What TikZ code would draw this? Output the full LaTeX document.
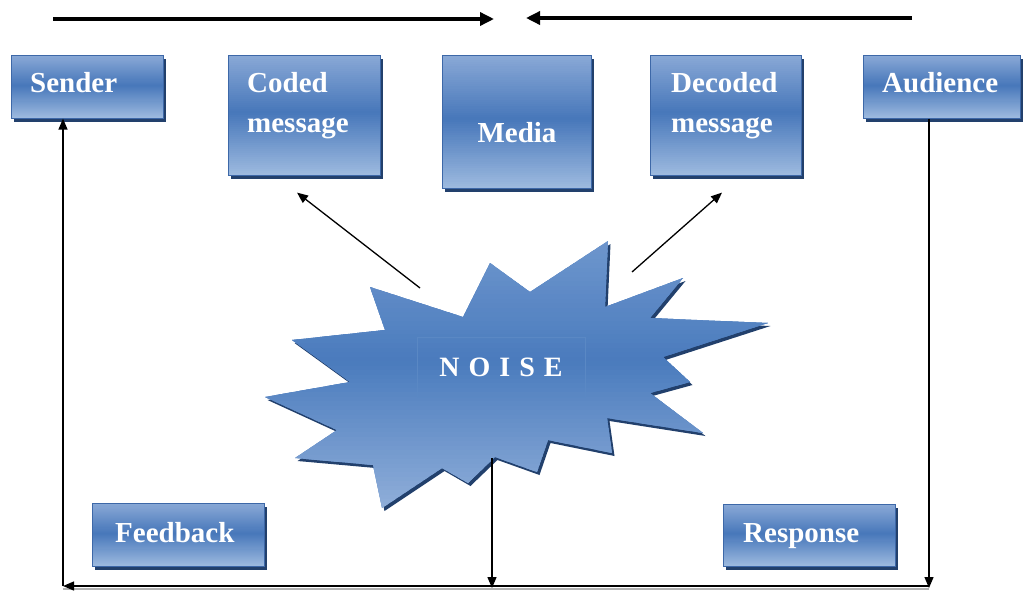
\documentclass[tikz,border=0pt]{standalone}
\usepackage{fontspec}
\setmainfont{Liberation Serif}
\usetikzlibrary{arrows.meta,shadows,calc}

\definecolor{boxtop}{HTML}{8AA9D6}
\definecolor{boxmid}{HTML}{4777BA}
\definecolor{boxbot}{HTML}{9DBADF}
\definecolor{boxline}{HTML}{3D68A8}
\definecolor{shadowc}{HTML}{22406C}
\definecolor{startop}{HTML}{6E96CD}
\definecolor{starmid}{HTML}{4A7BBD}
\definecolor{starbot}{HTML}{8FAED9}
\definecolor{framec}{HTML}{5A88C4}

% outline of the noise burst
\newcommand\noisestar{(608,241) -- (605,307) -- (683,278) -- (650,318) -- (768,323)
  -- (663,357) -- (690,382) -- (650,393) -- (703,433) -- (607,418) -- (612,453)
  -- (548,440) -- (537,472) -- (495,457) -- (468,483) -- (442,468) -- (382,508)
  -- (373,465) -- (295,458) -- (337,430) -- (265,397) -- (350,382) -- (292,340)
  -- (385,330) -- (370,287) -- (463,317) -- (490,263) -- (530,292) -- cycle}

% vertical three-stop gradient drawn as thin bands inside a path picture
% #1 top colour, #2 middle colour, #3 bottom colour, #4 position of the middle stop
\newcommand\bandfill[4]{%
  \coordinate (pa) at (path picture bounding box.north west);
  \coordinate (pb) at (path picture bounding box.south east);
  \foreach \i in {0,...,59}{%
    \pgfmathsetmacro\ta{\i/60}%
    \pgfmathsetmacro\tb{min(1,(\i+1.6)/60)}%
    \pgfmathsetmacro\tc{(\i+0.5)/60}%
    \ifdim\tc pt<#4pt
      \pgfmathsetmacro\pc{100*\tc/#4}\colorlet{bandc}{#2!\pc!#1}%
    \else
      \pgfmathsetmacro\pc{100*(\tc-#4)/(1-#4)}\colorlet{bandc}{#3!\pc!#2}%
    \fi
    \fill[bandc] ($(pa)!\ta!(pa|-pb)$) rectangle ($(pa-|pb)!\tb!(pb)$);
  }}

\tikzset{
  box/.style={draw=boxline, line width=0.6pt, anchor=north west, inner sep=0pt,
    fill=boxmid, path picture={\bandfill{boxtop}{boxmid}{boxbot}{0.48}},
    drop shadow={shadow xshift=3pt, shadow yshift=-4pt, fill=shadowc, opacity=1}},
  lbl/.style={text=white, inner sep=0pt, align=left,
    font=\bfseries\fontsize{29}{40}\selectfont},
  toparrow/.style={line width=3.4pt, -{Triangle[length=14pt,width=13pt]}},
  thinarrow/.style={line width=1.3pt, -{Triangle[length=11pt,width=9pt]}},
  noisetxt/.style={text=white, font=\bfseries\fontsize{28}{30}\selectfont,
    draw=framec, line width=0.3pt, minimum width=168pt, minimum height=60pt}
}

\begin{document}
\begin{tikzpicture}[x=1pt,y=-1pt]
\useasboundingbox (0,0) rectangle (1025,592);

% boxes
\node[box, minimum width=152pt, minimum height=63pt]  (sender)   at (11,55)  {};
\node[box, minimum width=152pt, minimum height=120pt] (coded)    at (228,55) {};
\node[box, minimum width=149pt, minimum height=133pt] (media)    at (442,55) {};
\node[box, minimum width=151pt, minimum height=120pt] (decoded)  at (650,55) {};
\node[box, minimum width=157pt, minimum height=63pt]  (audience) at (863,55) {};
\node[box, minimum width=172pt, minimum height=63pt]  (feedback) at (92,503) {};
\node[box, minimum width=172pt, minimum height=62pt]  (response) at (723,504) {};

% box labels
\node[lbl, anchor=base west]  (sender-t)   at (30,92)   {Sender};
\node[lbl, anchor=north west] (coded-t)    at (247,72)  {Coded\\message};
\node[lbl, anchor=base]       (media-t)    at (517,142) {Media};
\node[lbl, anchor=north west] (decoded-t)  at (671,72)  {Decoded\\message};
\node[lbl, anchor=base west]  (audience-t) at (882,92)  {Audience};
\node[lbl, anchor=base west]  (feedback-t) at (115,542) {Feedback};
\node[lbl, anchor=base west]  (response-t) at (743,542) {Response};

% noise burst
\fill[shadowc, shift={(2.5,3)}] \noisestar;
\path[fill=starmid, path picture={\bandfill{startop}{starmid}{starbot}{0.45}}] \noisestar;
\node[noisetxt] (noise) at (501,367)
  {N\kern9pt O\kern9pt I\kern9pt S\kern9pt E};

% flow arrows along the top
\coordinate (fwdA) at (53,19);
\coordinate (fwdB) at (494,19);
\coordinate (backA) at (912,18);
\coordinate (backB) at (526,18);
\draw[toparrow] (fwdA) -- (fwdB);
\draw[toparrow] (backA) -- (backB);

% noise acting on coding and decoding
\coordinate (nzL) at (420,288);
\coordinate (nzR) at (632,272);
\coordinate (nzD) at (492,458);
\draw[thinarrow] (nzL) -- ([xshift=69pt,yshift=-17pt]coded.south west);
\draw[thinarrow] (nzR) -- ([xshift=72pt,yshift=-17pt]decoded.south west);

% feedback loop
\coordinate (fbR) at (929,586);
\coordinate (fbL) at (63,586);
\coordinate (fbM) at (492,586);
\draw[gray!60, line width=2pt] ([yshift=-2.5pt]fbL) -- ([yshift=-2.5pt]fbR);
\draw[thinarrow] (fbR |- audience.south) -- ([yshift=-2pt]fbR);
\draw[thinarrow] (fbR) -- (fbL);
\draw[thinarrow] (fbL) -- (fbL |- sender.south);
\draw[thinarrow] (nzD) -- ([yshift=-2pt]fbM);
\end{tikzpicture}
\end{document}
